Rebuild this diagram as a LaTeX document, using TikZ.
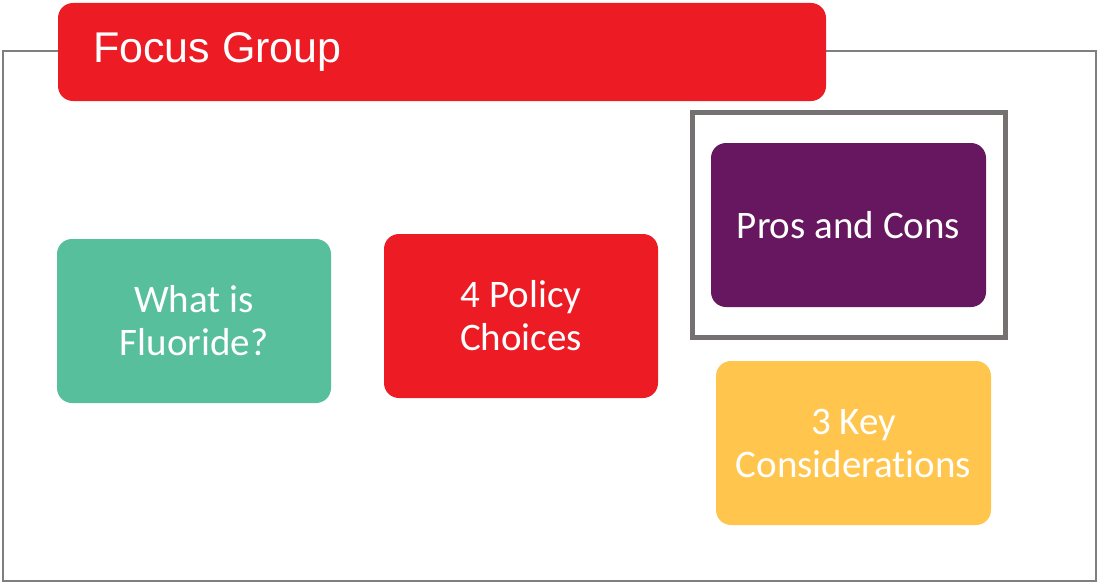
\documentclass[tikz,border=0pt]{standalone}
\usepackage{fontspec}
\setmainfont{Carlito}[Ligatures=NoCommon]
\newfontfamily\titlefont{Liberation Sans}
\definecolor{fgred}{HTML}{ED1C24}
\definecolor{fggreen}{HTML}{57BF9B}
\definecolor{fgpurple}{HTML}{67175F}
\definecolor{fgyellow}{HTML}{FFC54C}
\definecolor{framegray}{HTML}{7F7F7F}
\definecolor{markgray}{HTML}{767171}
\begin{document}
\begin{tikzpicture}[x=1pt,y=-1pt,
  topic/.style={rounded corners=15pt, inner sep=0pt, outer sep=0pt,
    minimum width=274pt, minimum height=164pt, text=white, align=center,
    font=\fontsize{39}{43}\selectfont},
  headbar/.style={fill=fgred, rounded corners=15pt, inner sep=0pt, outer sep=0pt,
    minimum width=768pt, minimum height=98pt},
  panelframe/.style={draw=framegray, line width=2pt, inner sep=0pt, outer sep=0pt, fill=none},
  currentframe/.style={draw=markgray, line width=5pt, inner sep=0pt, outer sep=0pt, fill=none,
    minimum width=313pt, minimum height=225pt}]
\useasboundingbox (0,0) rectangle (1099,586);
% outer panel
\node[panelframe, minimum width=1093pt, minimum height=530pt] (panel) at (549.5,316) {};
% heading bar
\node[headbar] (head) at (442,52) {};
\node[anchor=base west, inner sep=0pt, text=white, font=\titlefont\fontsize{43}{43}\selectfont]
  (headtext) at (93,63) {Focus Group};
% topic boxes
\node[topic, fill=fggreen] (what) at (194,321) {What is\\Fluoride?};
\node[topic, fill=fgred] (policy) at (521,316) {4 Policy\\Choices};
\node[topic, fill=fgpurple, minimum width=275pt] (pros) at (848.5,225) {Pros and Cons};
\node[topic, fill=fgyellow, minimum width=275pt] (keys) at (853.5,443) {3 Key\\Considerations};
% highlight around the current topic
\node[currentframe] (current) at (849,225) {};
\end{tikzpicture}
\end{document}
